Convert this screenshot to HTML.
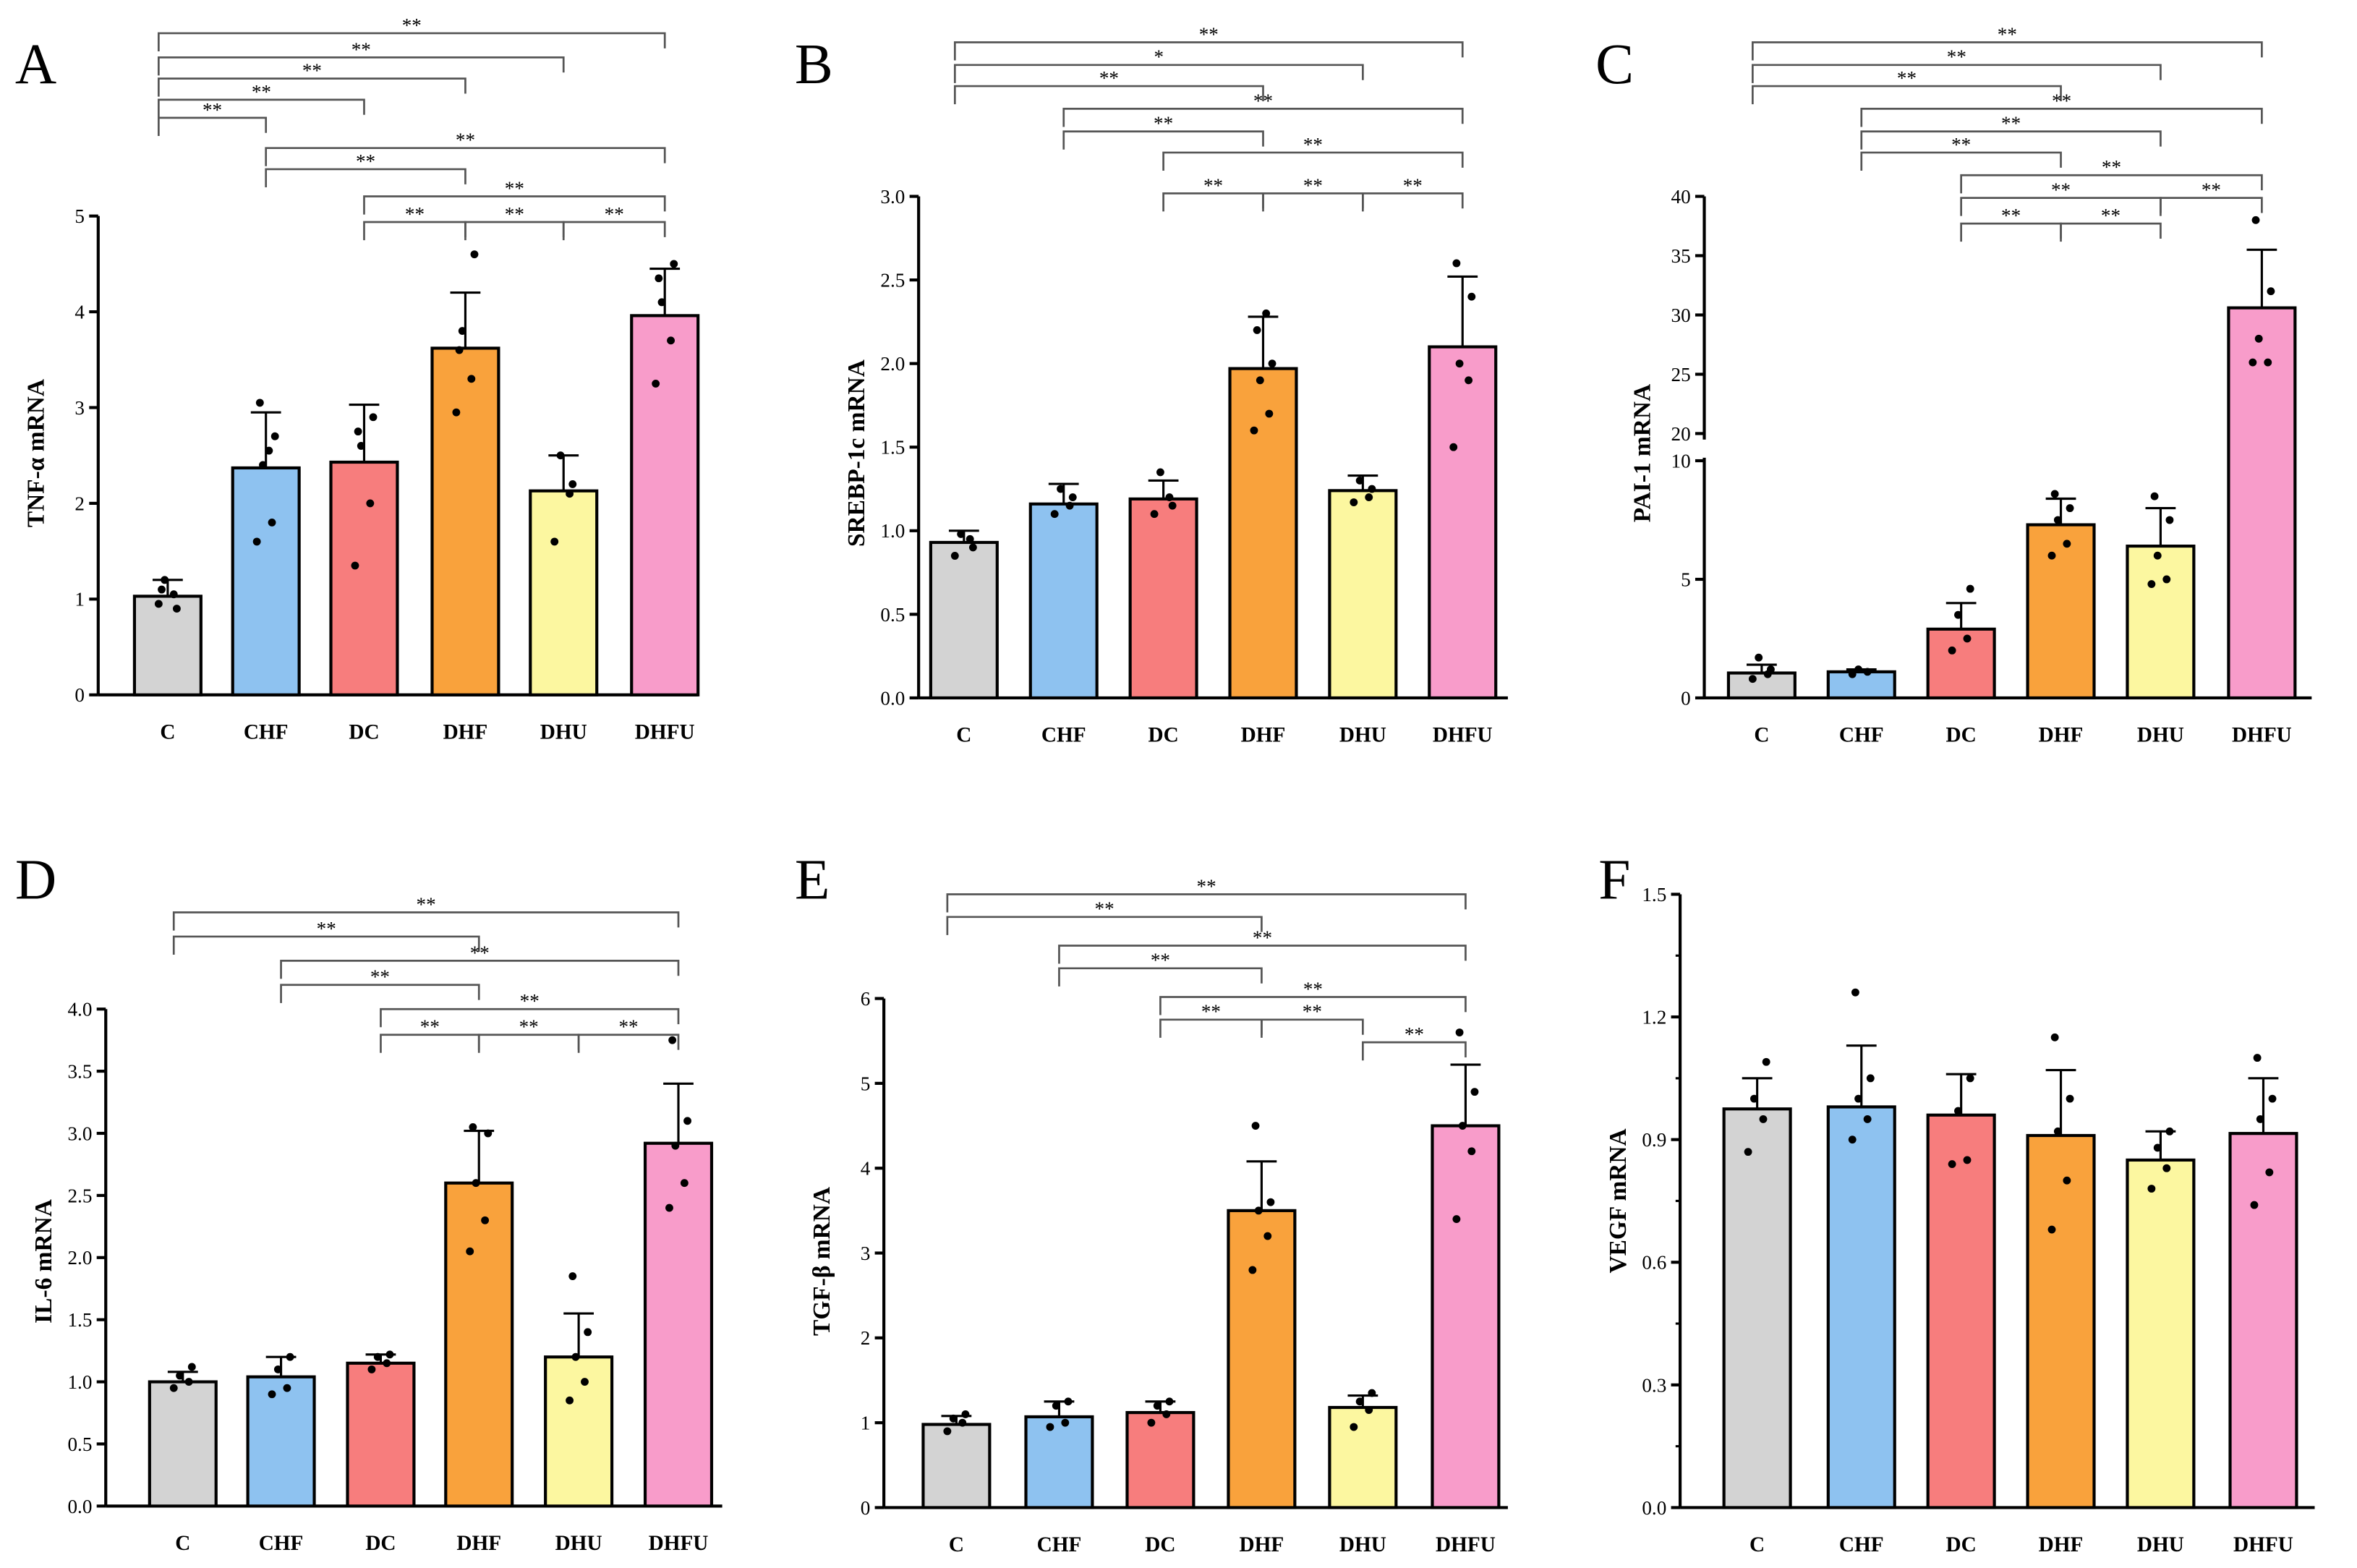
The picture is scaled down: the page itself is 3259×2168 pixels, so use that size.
<!DOCTYPE html>
<html><head><meta charset="utf-8"><style>
html,body{margin:0;padding:0;background:#fff;}
svg{display:block;}
text{font-family:"Liberation Serif",serif;fill:#000;}
</style></head><body>
<svg id="fig" width="3259" height="2168" viewBox="0 0 1560 1038" preserveAspectRatio="none" xmlns="http://www.w3.org/2000/svg"></svg>
<script>
const categories=["C","CHF","DC","DHF","DHU","DHFU"];
const colors=["#d3d3d3","#8ec2f0","#f77d7d","#f9a23c","#fcf7a0","#f89cca"];
const tnfValues=[1.03,2.37,2.43,3.62,2.13,3.96];
const tnfErrors=[1.2,2.95,3.03,4.2,2.5,4.45];
const tnfDots=[[0.95,1.05,1.2,0.9,1.1],[1.6,1.8,2.4,2.7,3.05,2.55],[1.35,2.0,2.6,2.9,2.75],[2.95,3.3,3.8,4.6,3.6],[1.6,2.1,2.5,2.2],[3.25,3.7,4.1,4.5,4.35]];
const srebpValues=[0.93,1.16,1.19,1.97,1.24,2.1];
const srebpErrors=[1.0,1.28,1.3,2.28,1.33,2.52];
const srebpDots=[[0.85,0.95,0.98,0.9],[1.1,1.15,1.25,1.2],[1.1,1.2,1.35,1.15],[1.6,1.7,1.9,2.0,2.2,2.3],[1.17,1.2,1.3,1.25],[1.5,1.9,2.0,2.4,2.6]];
const paiValues=[1.05,1.1,2.9,7.3,6.4,30.6];
const paiErrors=[1.4,1.2,4.0,8.4,8.0,35.5];
const paiDots=[[0.8,1.0,1.7,1.2],[1.0,1.1,1.2],[2.0,2.5,3.5,4.6],[6.0,6.5,7.5,8.0,8.6],[4.8,5.0,6.0,7.5,8.5],[26,26,28,32,38]];
const il6Values=[1.0,1.04,1.15,2.6,1.2,2.92];
const il6Errors=[1.08,1.2,1.22,3.02,1.55,3.4];
const il6Dots=[[0.95,1.0,1.05,1.12],[0.9,0.95,1.1,1.2],[1.1,1.15,1.2,1.22],[2.05,2.3,2.6,3.0,3.05],[0.85,1.0,1.2,1.4,1.85],[2.4,2.6,2.9,3.1,3.75]];
const tgfValues=[0.98,1.07,1.12,3.5,1.18,4.5];
const tgfErrors=[1.08,1.25,1.25,4.08,1.32,5.22];
const tgfDots=[[0.9,1.0,1.05,1.1],[0.95,1.0,1.2,1.25],[1.0,1.1,1.2,1.25],[2.8,3.2,3.5,3.6,4.5],[0.95,1.15,1.25,1.35],[3.4,4.2,4.5,4.9,5.6]];
const vegfValues=[0.975,0.98,0.96,0.91,0.85,0.915];
const vegfErrors=[1.05,1.13,1.06,1.07,0.92,1.05];
const vegfDots=[[0.87,0.95,1.0,1.09],[0.9,0.95,1.0,1.05,1.26],[0.84,0.85,0.97,1.05],[0.68,0.8,0.92,1.0,1.15],[0.78,0.83,0.88,0.92],[0.74,0.82,0.95,1.0,1.1]];

const svg=document.getElementById('fig');
const NS="http://www.w3.org/2000/svg";
function mk(tag,attrs,parent,txt){const e=document.createElementNS(NS,tag);for(const k in attrs)e.setAttribute(k,attrs[k]);if(txt!==undefined)e.textContent=txt;(parent||svg).appendChild(e);return e;}

function panel(p){
 const g=mk('g',{});
 
 
 const lt=mk('text',{x:p.letterX,y:p.letterY,'font-size':38},g,p.letter);
 
 
 const y=p.yScale;
 const bw=44;
 // axes
 const ax=mk('g',{},g);
 
 
 if(p.broken){
  mk('line',{x1:p.ax,y1:p.y0,x2:p.ax,y2:y(10)-2,stroke:'#000','stroke-width':2},ax);
  mk('line',{x1:p.ax,y1:y(20)+4,x2:p.ax,y2:y(40),stroke:'#000','stroke-width':2},ax);
 } else mk('line',{x1:p.ax,y1:p.y0,x2:p.ax,y2:y(p.ticks[p.ticks.length-1]),stroke:'#000','stroke-width':2},ax);
 const xa=mk('line',{x1:p.ax,y1:p.y0,x2:p.xEnd,y2:p.y0,stroke:'#000','stroke-width':2},g);
 
 
 p.ticks.forEach((t,i)=>{
  const yy=y(t);
  mk('line',{x1:p.ax-6,y1:yy,x2:p.ax,y2:yy,stroke:'#000','stroke-width':2},ax);
  const tl=mk('text',{x:p.ax-9,y:yy+4.5,'font-size':13,'text-anchor':'end'},ax,p.tickLabels[i]);
  
  
 });
 if(p.minor){p.minor.forEach(t=>mk('line',{x1:p.ax-3,y1:y(t),x2:p.ax,y2:y(t),stroke:'#000','stroke-width':1.5},ax));}
 const yt=mk('text',{x:0,y:0,'font-size':16,'font-weight':'bold','text-anchor':'middle',transform:`translate(${p.ax-36},${p.titleY}) rotate(-90)`},g,p.title);
 
 
 categories.forEach((c,i)=>{
  const cx=p.centers[i];
  const v=p.values[i], e=p.errors[i];
  let top=y(v);
  const r=mk('rect',{x:cx-bw/2,y:top,width:bw,height:p.y0-top,fill:colors[i],stroke:'#000','stroke-width':2},g);
  
  
  if(p.broken && v>10){
   mk('rect',{x:cx-bw/2-2,y:y(10)-1,width:bw+4,height:(y(20)+4)-(y(10)-1)+1,fill:'#fff'},g);
  }
  const eg=mk('g',{stroke:'#000','stroke-width':1.5},g);
  
  
  mk('line',{x1:cx,y1:top,x2:cx,y2:y(e)},eg);
  mk('line',{x1:cx-10,y1:y(e),x2:cx+10,y2:y(e)},eg);
  const offs=[-6,4,-2,6,-4,2];
  p.dots[i].forEach((d,k)=>{
   const dt=mk('circle',{cx:cx+offs[k%6],cy:y(d),r:2.6,fill:'#000'},g);
   
   
  });
  const xl=mk('text',{x:cx,y:p.y0+29,'font-size':14,'font-weight':'bold','text-anchor':'middle'},g,c);
  
  
 });
 (p.brackets||[]).forEach(b=>{
  const bg=mk('g',{stroke:'#555','stroke-width':1.3,fill:'none'},g);
  
  
  const x1=p.centers[b[0]]-(b[0]===0?6:0), x2=p.centers[b[1]];
  mk('path',{d:`M${x1},${b[2]+12} V${b[2]} H${x2} V${b[2]+10}`},bg);
  const st=mk('text',{x:(x1+x2)/2,y:b[2]-1,'font-size':13,'text-anchor':'middle'},g,b[3]||'**');
  
  
 });
}
function lin(y0,yTop,vTop){return v=>y0-(y0-yTop)*v/vTop;}

panel({letter:'A',letterX:10,letterY:55,ax:65,xEnd:462,y0:460,yScale:lin(460,143,5),ticks:[0,1,2,3,4,5],tickLabels:['0','1','2','3','4','5'],
 title:'TNF-α mRNA',titleY:300,centers:[111,176,241,308,373,440],values:tnfValues,errors:tnfErrors,dots:tnfDots,
 brackets:[[0,5,22],[0,4,38],[0,3,52],[0,2,66],[0,1,78],[1,5,98],[1,3,112],[2,5,130],[2,3,147],[3,4,147],[4,5,147]]});
panel({letter:'B',letterX:526,letterY:55,ax:608,xEnd:998,y0:462,yScale:lin(462,130,3),ticks:[0,0.5,1,1.5,2,2.5,3],tickLabels:['0.0','0.5','1.0','1.5','2.0','2.5','3.0'],
 title:'SREBP-1c mRNA',titleY:300,centers:[638,704,770,836,902,968],values:srebpValues,errors:srebpErrors,dots:srebpDots,
 brackets:[[0,5,28],[0,4,43,'*'],[0,3,57],[1,5,72],[1,3,87],[2,5,101],[2,3,128],[3,4,128],[4,5,128]]});
const paiScale=v=> v<=10 ? 462-(462-305)*v/10 : 287-(287-130)*(v-20)/20;
panel({letter:'C',letterX:1056,letterY:55,ax:1128,xEnd:1530,y0:462,yScale:paiScale,broken:true,ticks:[0,5,10,20,25,30,35,40],tickLabels:['0','5','10','20','25','30','35','40'],
 title:'PAI-1 mRNA',titleY:300,centers:[1166,1232,1298,1364,1430,1497],values:paiValues,errors:paiErrors,dots:paiDots,
 brackets:[[0,5,28],[0,4,43],[0,3,57],[1,5,72],[1,4,87],[1,3,101],[2,5,116],[2,4,131],[2,3,148],[3,4,148],[4,5,131]]});
panel({letter:'D',letterX:10,letterY:595,ax:70,xEnd:478,y0:997,yScale:lin(997,668,4),ticks:[0,0.5,1,1.5,2,2.5,3,3.5,4],tickLabels:['0.0','0.5','1.0','1.5','2.0','2.5','3.0','3.5','4.0'],
 title:'IL-6 mRNA',titleY:835,centers:[121,186,252,317,383,449],values:il6Values,errors:il6Errors,dots:il6Dots,
 brackets:[[0,5,604],[0,3,620],[1,5,636],[1,3,652],[2,5,668],[2,3,685],[3,4,685],[4,5,685]]});
panel({letter:'E',letterX:526,letterY:595,ax:585,xEnd:998,y0:998,yScale:lin(998,661,6),ticks:[0,1,2,3,4,5,6],tickLabels:['0','1','2','3','4','5','6'],
 title:'TGF-β mRNA',titleY:835,centers:[633,701,768,835,902,970],values:tgfValues,errors:tgfErrors,dots:tgfDots,
 brackets:[[0,5,592],[0,3,607],[1,5,626],[1,3,641],[2,5,660],[2,3,675],[3,4,675],[4,5,690]]});
panel({letter:'F',letterX:1058,letterY:595,ax:1112,xEnd:1532,y0:998,yScale:lin(998,592,1.5),ticks:[0,0.3,0.6,0.9,1.2,1.5],tickLabels:['0.0','0.3','0.6','0.9','1.2','1.5'],
 minor:[0.15,0.45,0.75,1.05,1.35],
 title:'VEGF mRNA',titleY:795,centers:[1163,1232,1298,1364,1430,1498],values:vegfValues,errors:vegfErrors,dots:vegfDots,brackets:[]});
</script>
</body></html>
